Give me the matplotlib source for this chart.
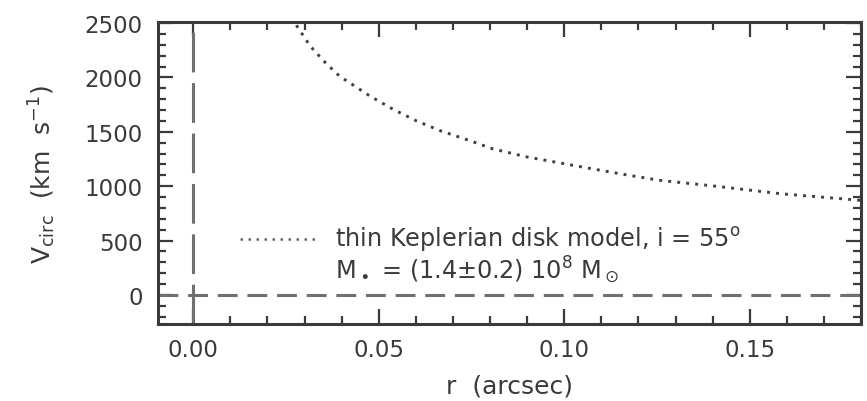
import matplotlib.pyplot as plt
from matplotlib.ticker import MultipleLocator

# values
r_arcsec = [0.0278, 0.0315, 0.0355, 0.0395, 0.0476, 0.0540, 0.0602, 0.0670, 0.0745,
            0.0806, 0.0898, 0.0987, 0.1075, 0.1167, 0.1255, 0.1409, 0.1586, 0.1747, 0.1800]
v_circ = [2480, 2290, 2140, 2010, 1830, 1705, 1600, 1505, 1420,
          1345, 1270, 1215, 1160, 1105, 1055, 1000, 930, 885, 870]

legend_line1 = r"thin Keplerian disk model, i = 55$^{\rm o}$"
legend_line2 = r"M$_\bullet$ = (1.4$\pm$0.2) 10$^8$ M$_\odot$"

ink = "#3a3a3a"
plt.rcParams['font.family'] = ['DejaVu Sans']
plt.rcParams['mathtext.fontset'] = 'dejavusans'

fig = plt.figure(figsize=(8.67, 4.02), dpi=100)
ax = fig.add_axes([158 / 867, 1 - 325 / 402, 703 / 867, 302 / 402])

ax.axvline(0, color="#707070", lw=2.2, dashes=(13, 3.5))
ax.axhline(0, color="#707070", lw=2.2, dashes=(6.5, 3.2))
ax.plot(r_arcsec, v_circ, color="#404040", lw=2.1, linestyle=(0, (1, 2.1)))

ax.set_xlim(-0.0095, 0.1800)
ax.set_ylim(-267, 2510)
ax.xaxis.set_major_locator(MultipleLocator(0.05))
ax.xaxis.set_minor_locator(MultipleLocator(0.01))
ax.yaxis.set_major_locator(MultipleLocator(500))
ax.yaxis.set_minor_locator(MultipleLocator(100))
ax.xaxis.set_major_formatter(plt.FuncFormatter(lambda v, p: f"{v:.2f}"))

ax.tick_params(which="both", direction="in", top=True, right=True,
               color=ink, labelcolor=ink, labelsize=16.5, width=1.6)
ax.tick_params(which="major", length=11, pad=11)
ax.tick_params(which="minor", length=6)
ax.tick_params(axis="x", which="major", pad=10)
for s in ax.spines.values():
    s.set_linewidth(2.2)
    s.set_color(ink)

ax.set_xlabel("r  (arcsec)", fontsize=18, color=ink, labelpad=9)
ax.set_ylabel(r"V$_{\rm circ}$  (km  s$^{-1}$)", fontsize=18, color=ink, labelpad=19)

# legend drawn by hand in data coordinates
ax.plot([0.0126, 0.0333], [515, 515], color="#666666", lw=1.8, linestyle=(0, (1, 2.2)))
ax.text(0.0382, 515, legend_line1, fontsize=17.3, color=ink, va="center")
ax.text(0.0382, 235, legend_line2, fontsize=17.3, color=ink, va="center")

fig.savefig("out.png", dpi=100)
